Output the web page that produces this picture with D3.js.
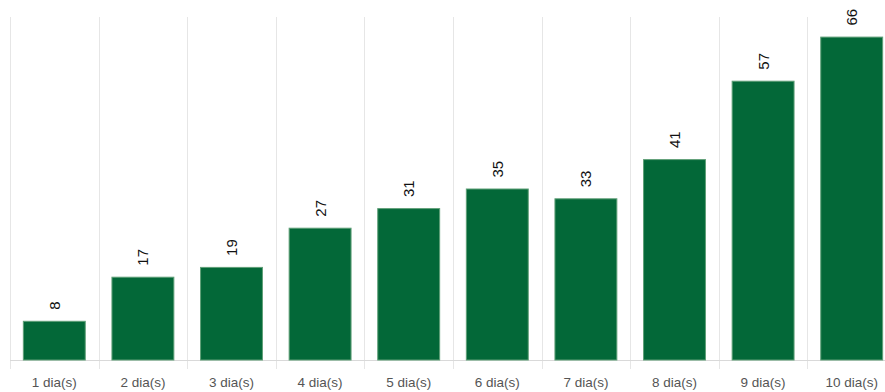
<!DOCTYPE html>
<html>
<head>
<meta charset="utf-8">
<script src="https://cdn.jsdelivr.net/npm/d3@7/dist/d3.min.js"></script>
<style>
  html, body { margin: 0; padding: 0; background: #fff; }
  svg { display: block; font-family: Arial, "Liberation Sans", sans-serif; }
</style>
</head>
<body>
<svg id="chart" width="885" height="392"></svg>
<script>
// Days and counts per bucket
const categories = ["1 dia(s)", "2 dia(s)", "3 dia(s)", "4 dia(s)", "5 dia(s)",
                    "6 dia(s)", "7 dia(s)", "8 dia(s)", "9 dia(s)", "10 dia(s)"];
const values = [8, 17, 19, 27, 31, 35, 33, 41, 57, 66];
const yMax = 70;

const svg = d3.select("#chart");
const plotLeft = 10, plotRight = 896, plotTop = 17, plotBottom = 360;

const x = d3.scaleBand().domain(categories).range([plotLeft, plotRight]).paddingInner(0.29).paddingOuter(0.145);
const xBand = d3.scaleBand().domain(categories).range([plotLeft, plotRight]);
const y = d3.scaleLinear().domain([0, yMax]).range([plotBottom, plotTop]);

// Vertical separators between categories
const gridX = categories.map(c => xBand(c));
svg.append("g").selectAll("line").data(gridX).join("line")
  .attr("x1", d => Math.round(d) + 0.5).attr("x2", d => Math.round(d) + 0.5)
  .attr("y1", plotTop).attr("y2", plotBottom + 9)
  .attr("stroke", "#e6e6e6").attr("stroke-width", 1);

// Baseline
svg.append("line")
  .attr("x1", plotLeft).attr("x2", plotRight)
  .attr("y1", plotBottom + 0.5).attr("y2", plotBottom + 0.5)
  .attr("stroke", "#d9d9d9");

// Bars
svg.append("g").selectAll("rect").data(values).join("rect")
  .attr("x", (d, i) => x(categories[i]) + 0.5)
  .attr("y", d => y(d) + 0.5)
  .attr("width", x.bandwidth() - 1)
  .attr("height", d => plotBottom - y(d) - 0.5)
  .attr("fill", "#036838")
  .attr("stroke", "#5f9f77")
  .attr("stroke-width", 1);

// Value labels, rotated
svg.append("g").selectAll("text").data(values).join("text")
  .attr("transform", (d, i) => `translate(${xBand(categories[i]) + xBand.bandwidth() / 2 + 5.5},${y(d) - 11}) rotate(-90)`)
  .attr("text-anchor", "start")
  .attr("font-size", 15)
  .attr("fill", "#111")
  .text(d => d);

// Category labels
svg.append("g").selectAll("text").data(categories).join("text")
  .attr("x", c => xBand(c) + xBand.bandwidth() / 2)
  .attr("y", 387)
  .attr("text-anchor", "middle")
  .attr("font-size", 13.5)
  .attr("fill", "#555")
  .text(c => c);
</script>
</body>
</html>
